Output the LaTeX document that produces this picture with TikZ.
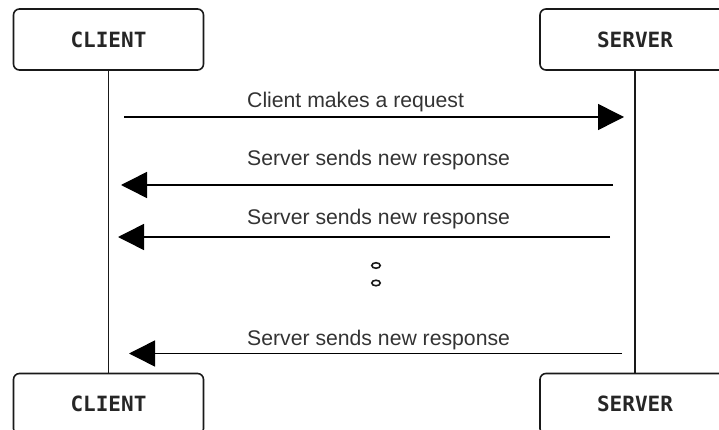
\documentclass[tikz,border=0pt]{standalone}
\usepackage{fontspec}
\setmainfont{Liberation Sans}
\newfontfamily\actorfont{DejaVu Sans Mono}
\usetikzlibrary{arrows.meta,shapes.geometric}
\begin{document}
\begin{tikzpicture}[x=1pt,y=-1pt,
  actor/.style={draw=black!90, line width=1.6pt, rounded corners=6pt,
    minimum width=190pt, minimum height=61pt, inner sep=0pt,
    font=\actorfont\bfseries\fontsize{21}{21}\selectfont, text=black!85},
  life/.style={draw=black!90, line width=1.5pt},
  msg/.style={draw=black, line width=1.5pt, -{Triangle[length=26pt,width=26pt]}},
  lbl/.style={anchor=base west, inner sep=0pt,
    font=\fontsize{21.2}{21.2}\selectfont, text=black!80},
  dotmark/.style={draw=black!90, line width=1.6pt, ellipse, inner sep=0pt,
    minimum width=8.5pt, minimum height=5.5pt}]
\useasboundingbox (0,0) rectangle (719,430);
\clip (0,0) rectangle (719,430);
\fill[white] (0,0) rectangle (719,430);
% actors
\node[actor] (ct) at (108.5,39.5) {CLIENT};
\node[actor] (st) at (635,39.5) {SERVER};
\node[actor] (cb) at (108.5,404) {CLIENT};
\node[actor] (sb) at (635,404) {SERVER};
% lifelines
\draw[life] (ct) -- (cb);
\draw[life] (st) -- (sb);
% message ends
\coordinate (a1s) at (124,117);
\coordinate (a1e) at (624,117);
\coordinate (a2s) at (613,185);
\coordinate (a2e) at (121,185);
\coordinate (a3s) at (610,237);
\coordinate (a3e) at (118,237);
\coordinate (a4s) at (622,353.5);
\coordinate (a4e) at (129,353.5);
\draw[msg] (a1s) -- (a1e);
\draw[msg] (a2s) -- (a2e);
\draw[msg] (a3s) -- (a3e);
\draw[msg] (a4s) -- (a4e);
% labels
\node[lbl] (l1) at (247,107.7) {Client makes a request};
\node[lbl] (l2) at (247,165.7) {Server sends new response};
\node[lbl] (l3) at (247,225) {Server sends new response};
\node[lbl] (l4) at (247,345) {Server sends new response};
% ellipsis dots
\node[dotmark] (d1) at (376,265.5) {};
\node[dotmark] (d2) at (376,283) {};
\end{tikzpicture}
\end{document}
